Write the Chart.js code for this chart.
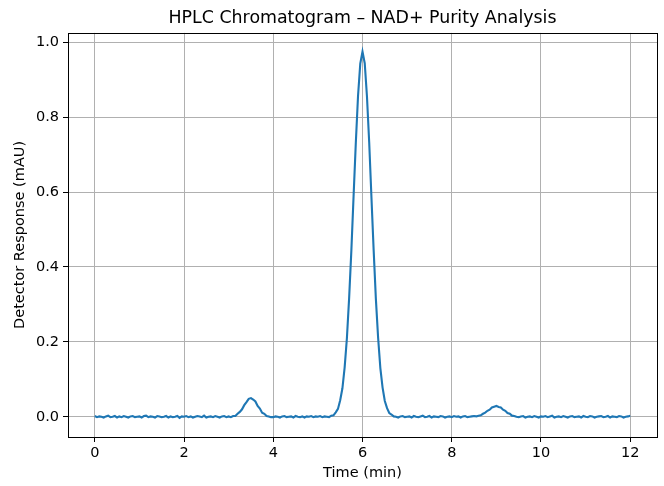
<!DOCTYPE html>
<html><head><meta charset="utf-8">
<script src="https://cdn.jsdelivr.net/npm/chart.js@4"></script>
<style>html,body{margin:0;padding:0;background:#fff}</style>
</head><body>
<canvas id="c" width="664" height="486"></canvas>
<script>
const chartTitle = 'HPLC Chromatogram – NAD+ Purity Analysis';
const xAxisLabel = 'Time (min)';
const yAxisLabel = 'Detector Response (mAU)';
const timeStart = 0;
const timeStep = 0.05;
// detector response, one value per 0.05 min, 0 .. 12 min
const response = [
  0.002,-0.001,0.001,0.000,-0.002,0.001,0.003,-0.001,0.000,0.002,-0.002,0.001,-0.001,0.002,0.000,-0.002,0.001,0.002,-0.001,0.000,
  0.001,-0.002,0.002,0.003,-0.001,0.001,0.000,-0.002,0.002,0.001,-0.001,0.000,0.002,-0.002,0.001,-0.001,0.000,0.002,-0.003,0.001,
  0.000,0.002,-0.001,0.001,-0.002,0.000,0.002,0.001,-0.001,0.003,-0.002,0.000,0.001,-0.001,0.002,0.000,-0.002,0.001,0.002,-0.001,
  0.001,-0.001,0.002,0.002,0.008,0.013,0.020,0.031,0.039,0.048,0.050,0.046,0.041,0.029,0.022,0.011,0.008,0.002,0.001,-0.001,
  -0.001,0.001,0.000,-0.002,0.001,0.002,-0.001,0.000,0.001,-0.002,0.002,0.000,-0.001,0.001,-0.002,0.001,0.000,0.002,-0.001,0.001,
  0.000,0.002,-0.001,0.001,0.000,-0.001,0.003,0.004,0.012,0.021,0.044,0.076,0.132,0.209,0.316,0.443,0.589,0.731,0.857,0.943,
  0.975,0.944,0.855,0.733,0.587,0.445,0.314,0.211,0.130,0.078,0.042,0.023,0.010,0.006,0.001,0.000,-0.002,0.001,0.002,-0.001,
  0.000,0.001,-0.002,0.002,0.000,-0.001,0.001,0.003,-0.001,0.000,0.002,-0.002,0.001,0.000,-0.001,0.002,0.001,-0.002,0.000,0.001,
  -0.001,0.002,0.000,0.001,-0.002,0.001,0.002,-0.001,0.000,0.001,0.002,0.001,0.003,0.004,0.008,0.011,0.016,0.019,0.025,0.027,
  0.029,0.026,0.025,0.019,0.016,0.010,0.008,0.003,0.002,0.000,-0.001,0.001,0.002,-0.002,0.000,0.001,-0.001,0.002,0.000,-0.002,
  0.001,0.000,0.002,-0.001,0.001,0.003,-0.002,0.000,0.001,-0.001,0.002,0.000,-0.002,0.001,0.002,-0.001,0.000,0.001,-0.002,0.002,
  0.000,-0.001,0.002,0.001,-0.002,0.000,0.001,0.002,-0.001,0.000,0.002,-0.002,0.001,0.000,-0.001,0.002,0.001,-0.002,0.000,0.001,
  0.003
];
const xTicks = [0, 2, 4, 6, 8, 10, 12];
const yTicks = [0.0, 0.2, 0.4, 0.6, 0.8, 1.0];

const points = response.map((v, i) => ({ x: +(timeStart + i * timeStep).toFixed(2), y: v }));
const FONT = 'DejaVu Sans';

const frame = {
  id: 'frame',
  afterDatasetsDraw(chart) {
    const a = chart.chartArea, ctx = chart.ctx;
    ctx.save();
    ctx.strokeStyle = '#000';
    ctx.lineWidth = 1;
    ctx.strokeRect(Math.round(a.left) + 0.5, Math.round(a.top) + 0.5,
      Math.round(a.right - a.left), Math.round(a.bottom - a.top));
    ctx.restore();
  }
};

new Chart(document.getElementById('c'), {
  type: 'line',
  data: {
    datasets: [{
      data: points,
      borderColor: '#1f77b4',
      borderWidth: 2.1,
      pointRadius: 0,
      tension: 0,
      fill: false
    }]
  },
  options: {
    responsive: false,
    devicePixelRatio: 1,
    animation: false,
    layout: { padding: { top: 0, right: 7, bottom: 0, left: 0 } },
    plugins: {
      legend: { display: false },
      tooltip: { enabled: false },
      title: {
        display: true,
        text: chartTitle,
        color: '#000',
        fullSize: false,
        font: { family: FONT, size: 17.4, weight: 'normal' },
        padding: { top: 8, bottom: 4 }
      }
    },
    scales: {
      x: {
        type: 'linear',
        min: -0.6,
        max: 12.6,
        afterBuildTicks(s) { s.ticks = xTicks.map(v => ({ value: v })); },
        afterFit(s) { s.height = 49; },
        ticks: {
          color: '#000',
          font: { family: FONT, size: 14.5 },
          padding: 3,
          maxRotation: 0,
          callback: v => String(v)
        },
        grid: { color: '#b0b0b0', lineWidth: 1, tickColor: '#000', tickLength: 5, drawTicks: true },
        border: { display: false },
        title: { display: true, text: xAxisLabel, color: '#000', font: { family: FONT, size: 14.5 }, padding: 4 }
      },
      y: {
        type: 'linear',
        min: -0.054,
        max: 1.025,
        afterBuildTicks(s) { s.ticks = yTicks.map(v => ({ value: v })); },
        afterFit(s) { s.width = 68; },
        ticks: {
          color: '#000',
          font: { family: FONT, size: 14.5 },
          padding: 4,
          callback: v => Number(v).toFixed(1)
        },
        grid: { color: '#b0b0b0', lineWidth: 1, tickColor: '#000', tickLength: 5, drawTicks: true },
        border: { display: false },
        title: { display: true, text: yAxisLabel, color: '#000', font: { family: FONT, size: 14.5 }, padding: 12 }
      }
    }
  },
  plugins: [frame]
});
</script>
</body></html>
